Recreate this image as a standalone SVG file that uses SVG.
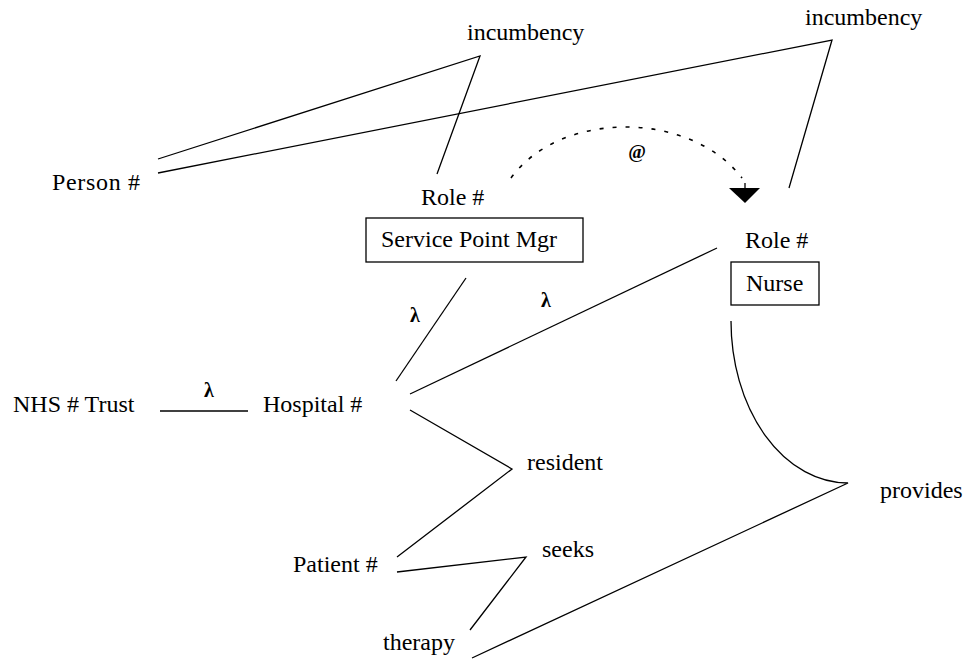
<svg xmlns="http://www.w3.org/2000/svg" width="965" height="665" viewBox="0 0 965 665">
<style>
  .t { font-family: "Liberation Serif", "Times New Roman", serif; font-size: 24px; fill: #000; }
  .g { font-family: "Liberation Serif", "Times New Roman", serif; font-size: 20px; font-weight: bold; fill: #000; text-anchor: middle; }
  .box { fill: #fff; stroke: #000; stroke-width: 1.3; }
  .ln { fill: none; stroke: #000; stroke-width: 1.3; stroke-linejoin: miter; }
  .dot { fill: none; stroke: #000; stroke-width: 1.6; stroke-dasharray: 4 9; }
</style>
<rect width="965" height="665" fill="#fff"/>
<g id="connectors">
  <path class="ln" d="M158 159 L480 56 L437 174"/>
  <path class="ln" d="M158 173 L832 40 L789 188"/>
  <path class="ln" d="M466 278 L396 381"/>
  <path class="ln" d="M410 394 L717 248"/>
  <path class="ln" d="M160 411 L248 411"/>
  <path class="ln" d="M410 410 L512 469 L397 557"/>
  <path class="ln" d="M397 572 L526 557 L470 630"/>
  <path class="ln" d="M472 658 L848 483 A117 162 0 0 1 731 321"/>
  <path class="dot" d="M511 178 C560 110 690 110 742 178"/>
  <path class="ln" d="M745 183 L745 189"/>
  <polygon points="729,188 760,188 745,203" fill="#000"/>
  <text class="g" x="415" y="322">λ</text>
  <text class="g" x="546" y="307">λ</text>
  <text class="g" x="209" y="397">λ</text>
  <text class="g" x="637" y="158" style="font-size:19px">@</text>
</g>
<g id="incumbency1"><text class="t" x="467" y="40">incumbency</text></g>
<g id="incumbency2"><text class="t" x="805" y="25">incumbency</text></g>
<g id="person"><text class="t" x="52" y="190" textLength="88">Person #</text></g>
<g id="role-spm">
  <text class="t" x="421" y="205">Role #</text>
  <rect class="box" x="366" y="218" width="217" height="44"/>
  <text class="t" x="381" y="247">Service Point Mgr</text>
</g>
<g id="role-nurse">
  <text class="t" x="745" y="248">Role #</text>
  <rect class="box" x="731" y="262" width="88" height="43"/>
  <text class="t" x="746" y="291">Nurse</text>
</g>
<g id="nhs-trust"><text class="t" x="13" y="412">NHS # Trust</text></g>
<g id="hospital"><text class="t" x="263" y="412">Hospital #</text></g>
<g id="resident"><text class="t" x="527" y="470">resident</text></g>
<g id="patient"><text class="t" x="293" y="572">Patient #</text></g>
<g id="seeks"><text class="t" x="542" y="557">seeks</text></g>
<g id="therapy"><text class="t" x="383" y="650">therapy</text></g>
<g id="provides"><text class="t" x="880" y="498">provides</text></g>
</svg>
